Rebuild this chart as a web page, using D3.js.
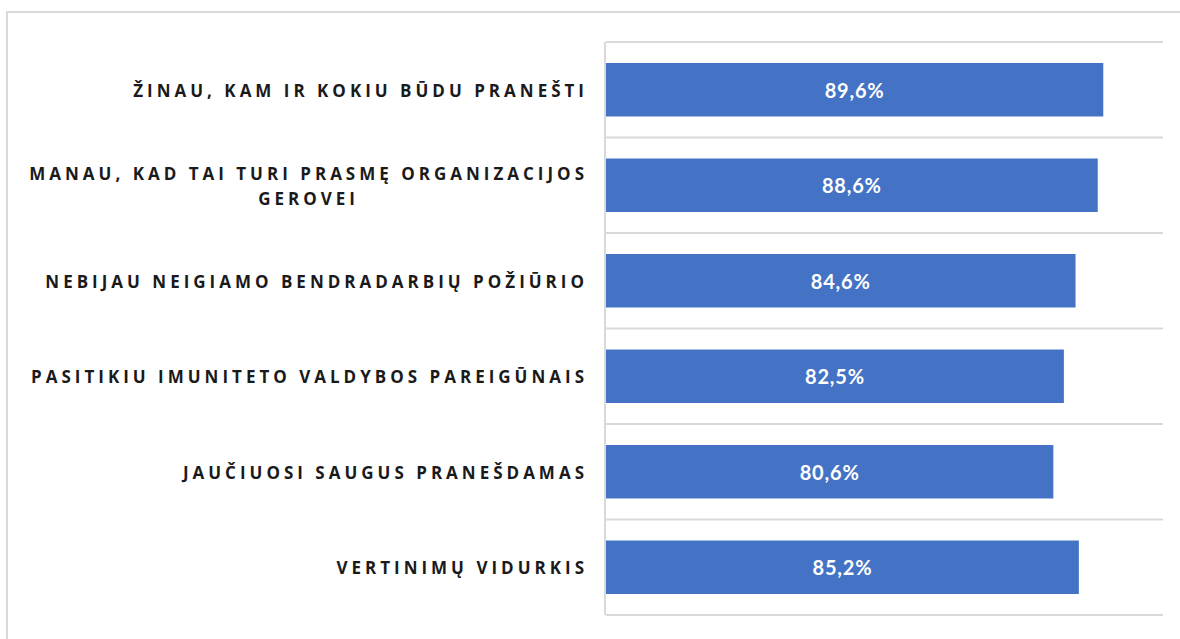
<!DOCTYPE html>
<html>
<head>
<meta charset="utf-8">
<script src="https://cdn.jsdelivr.net/npm/d3@7"></script>
<style>
  html, body { margin: 0; padding: 0; background: #fff; }
  svg { display: block; }
</style>
</head>
<body>
<div id="chart"></div>
<script>
const categories = [
  ["ŽINAU, KAM IR KOKIU BŪDU PRANEŠTI"],
  ["MANAU, KAD TAI TURI PRASMĘ ORGANIZACIJOS", "GEROVEI"],
  ["NEBIJAU NEIGIAMO BENDRADARBIŲ POŽIŪRIO"],
  ["PASITIKIU IMUNITETO VALDYBOS PAREIGŪNAIS"],
  ["JAUČIUOSI SAUGUS PRANEŠDAMAS"],
  ["VERTINIMŲ VIDURKIS"]
];
const values = [89.6, 88.6, 84.6, 82.5, 80.6, 85.2];
const valueLabels = ["89,6%", "88,6%", "84,6%", "82,5%", "80,6%", "85,2%"];

const width = 1180, height = 639;
const plot = { left: 606, right: 1161, top: 42, bottom: 615 };

const svg = d3.select("#chart").append("svg")
  .attr("width", width)
  .attr("height", height);

// outer frame (only top and left edges visible)
svg.append("path")
  .attr("d", `M7,${height} V12 H${width}`)
  .attr("fill", "none")
  .attr("stroke", "#d9d9d9")
  .attr("stroke-width", 2);

const x = d3.scaleLinear().domain([0, 100]).range([plot.left, plot.right]);
const y = d3.scaleBand()
  .domain(d3.range(values.length))
  .range([plot.top, plot.bottom])
  .paddingInner(0.44)
  .paddingOuter(0.22);

// horizontal gridlines at band boundaries
const bounds = d3.range(values.length + 1).map(i => plot.top + i * (plot.bottom - plot.top) / values.length);
svg.append("g")
  .selectAll("line")
  .data(bounds)
  .join("line")
  .attr("x1", plot.left)
  .attr("x2", plot.right + 2)
  .attr("y1", d => d)
  .attr("y2", d => d)
  .attr("stroke", "#d9d9d9")
  .attr("stroke-width", 2);

// vertical axis line
svg.append("line")
  .attr("x1", plot.left - 1)
  .attr("x2", plot.left - 1)
  .attr("y1", plot.top)
  .attr("y2", plot.bottom)
  .attr("stroke", "#d9d9d9")
  .attr("stroke-width", 2);

// bars
svg.append("g")
  .selectAll("rect")
  .data(values)
  .join("rect")
  .attr("x", x(0))
  .attr("y", (d, i) => y(i))
  .attr("width", d => x(d) - x(0))
  .attr("height", y.bandwidth())
  .attr("fill", "#4472c4");

// value labels
svg.append("g")
  .selectAll("text")
  .data(values)
  .join("text")
  .attr("x", d => (x(0) + x(d)) / 2)
  .attr("y", (d, i) => y(i) + y.bandwidth() / 2)
  .attr("text-anchor", "middle")
  .attr("dominant-baseline", "central")
  .attr("fill", "#fff")
  .style("font-family", "Lato, 'Open Sans', sans-serif")
  .style("font-weight", "bold")
  .style("font-size", "20px")
  .style("letter-spacing", "0.8px")
  .text((d, i) => valueLabels[i]);

// category labels
const labelX = 588;
const cat = svg.append("g")
  .selectAll("text")
  .data(categories)
  .join("text")
  .attr("fill", "#1a1a1a")
  .style("font-family", "'Open Sans', Lato, sans-serif")
  .style("font-weight", "bold")
  .style("font-size", "17px")
  .style("letter-spacing", "4px")
  .attr("dominant-baseline", "central");

cat.each(function(lines, i) {
  const t = d3.select(this);
  const cy = y(i) + y.bandwidth() / 2;
  if (lines.length === 1) {
    t.attr("text-anchor", "end")
      .append("tspan")
      .attr("x", labelX)
      .attr("y", cy)
      .text(lines[0]);
  } else {
    const first = t.append("tspan").attr("text-anchor", "end")
      .attr("x", labelX).attr("y", cy - 12.5).text(lines[0]);
    const w = first.node().getComputedTextLength();
    t.append("tspan").attr("text-anchor", "middle")
      .attr("x", labelX - w / 2).attr("y", cy + 12.5).text(lines[1]);
  }
});
</script>
</body>
</html>
